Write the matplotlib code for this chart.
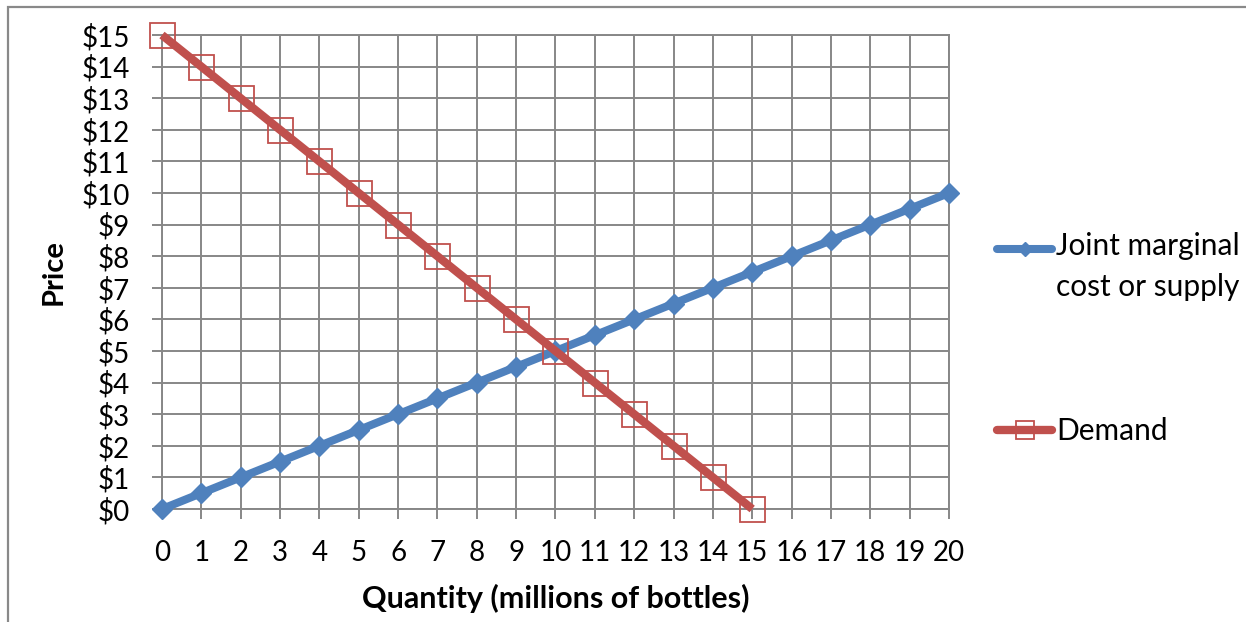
import matplotlib
matplotlib.use('Agg')
import matplotlib.pyplot as plt
from matplotlib.legend_handler import HandlerLine2D
from matplotlib.patches import Rectangle

plt.rcParams['font.family'] = ['Lato', 'DejaVu Sans']

# supply (joint marginal cost) and demand schedules
quantity = [0, 1, 2, 3, 4, 5, 6, 7, 8, 9, 10, 11, 12, 13, 14, 15, 16, 17, 18, 19, 20]
supply_price = [0, 0.5, 1, 1.5, 2, 2.5, 3, 3.5, 4, 4.5, 5, 5.5, 6, 6.5, 7, 7.5, 8, 8.5, 9, 9.5, 10]
demand_qty = [0, 1, 2, 3, 4, 5, 6, 7, 8, 9, 10, 11, 12, 13, 14, 15]
demand_price = [15, 14, 13, 12, 11, 10, 9, 8, 7, 6, 5, 4, 3, 2, 1, 0]

price_ticks = [0, 1, 2, 3, 4, 5, 6, 7, 8, 9, 10, 11, 12, 13, 14, 15]
price_labels = ['$0', '$1', '$2', '$3', '$4', '$5', '$6', '$7', '$8', '$9',
                '$10', '$11', '$12', '$13', '$14', '$15']

blue = '#4F81BD'
red = '#C0504D'
grid_gray = '#878787'


class RaisedHandler(HandlerLine2D):
    # put the legend handle level with the first line of a two-line label
    def __init__(self, shift, **kw):
        super().__init__(**kw)
        self.shift = shift

    def create_artists(self, legend, orig_handle, xdescent, ydescent,
                       width, height, fontsize, trans):
        arts = super().create_artists(legend, orig_handle, xdescent,
                                      ydescent - 2 * self.shift,
                                      width, height, fontsize, trans)
        for a in arts:
            a.set_solid_capstyle('round')
        return arts


class RoundHandler(HandlerLine2D):
    def create_artists(self, *args, **kw):
        arts = super().create_artists(*args, **kw)
        for a in arts:
            a.set_solid_capstyle('round')
        return arts


fig = plt.figure(figsize=(12.46, 6.22), dpi=100)
fig.patches.append(Rectangle((8 / 1246, -0.1), 1.2, 1.1 - 7 / 622,
                             transform=fig.transFigure, fill=False,
                             edgecolor='#898989', lw=1.6))

ax = fig.add_axes([0.130, 0.1817, 0.6316, 0.762])

supply_line, = ax.plot(quantity, supply_price, color=blue, lw=5.8,
                       marker='D', ms=10.5, mfc=blue, mec=blue,
                       solid_capstyle='butt', clip_on=False, zorder=3,
                       label='Joint marginal\ncost or supply')
demand_line, = ax.plot(demand_qty, demand_price, color=red, lw=6,
                       marker='s', ms=18, mfc='none', mec=red, mew=1.3,
                       solid_capstyle='butt', clip_on=False, zorder=4,
                       label='Demand')

ax.set_xlim(0, 20)
ax.set_ylim(0, 15)
ax.set_xticks(quantity)
ax.set_yticks(price_ticks)
ax.set_yticklabels(price_labels)
ax.grid(True, color=grid_gray, lw=1.4)
ax.set_axisbelow(True)
for s in ax.spines.values():
    s.set_color(grid_gray)
    s.set_linewidth(1.4)
ax.tick_params(direction='out', length=7, width=1.4, color=grid_gray)
ax.tick_params(axis='x', labelsize=20, pad=15)
ax.tick_params(axis='y', labelsize=20, pad=16)

ax.set_xlabel('Quantity (millions of bottles)', fontsize=22,
              fontweight='bold', labelpad=13)
ax.set_ylabel('Price', fontsize=21, fontweight='bold', labelpad=11)

leg = ax.legend(handles=[supply_line, demand_line], loc='upper left',
                bbox_to_anchor=(997 / 1246, 1 - 232 / 622),
                bbox_transform=fig.transFigure, frameon=False, fontsize=21.5,
                handlelength=1.85, handletextpad=0.12, labelspacing=3.9,
                borderpad=0, borderaxespad=0, markerscale=0.7, numpoints=1,
                handler_map={supply_line: RaisedHandler(13.5),
                             demand_line: RoundHandler()})
leg.get_texts()[0].set_linespacing(1.55)

fig.savefig('out.png', dpi=100)
